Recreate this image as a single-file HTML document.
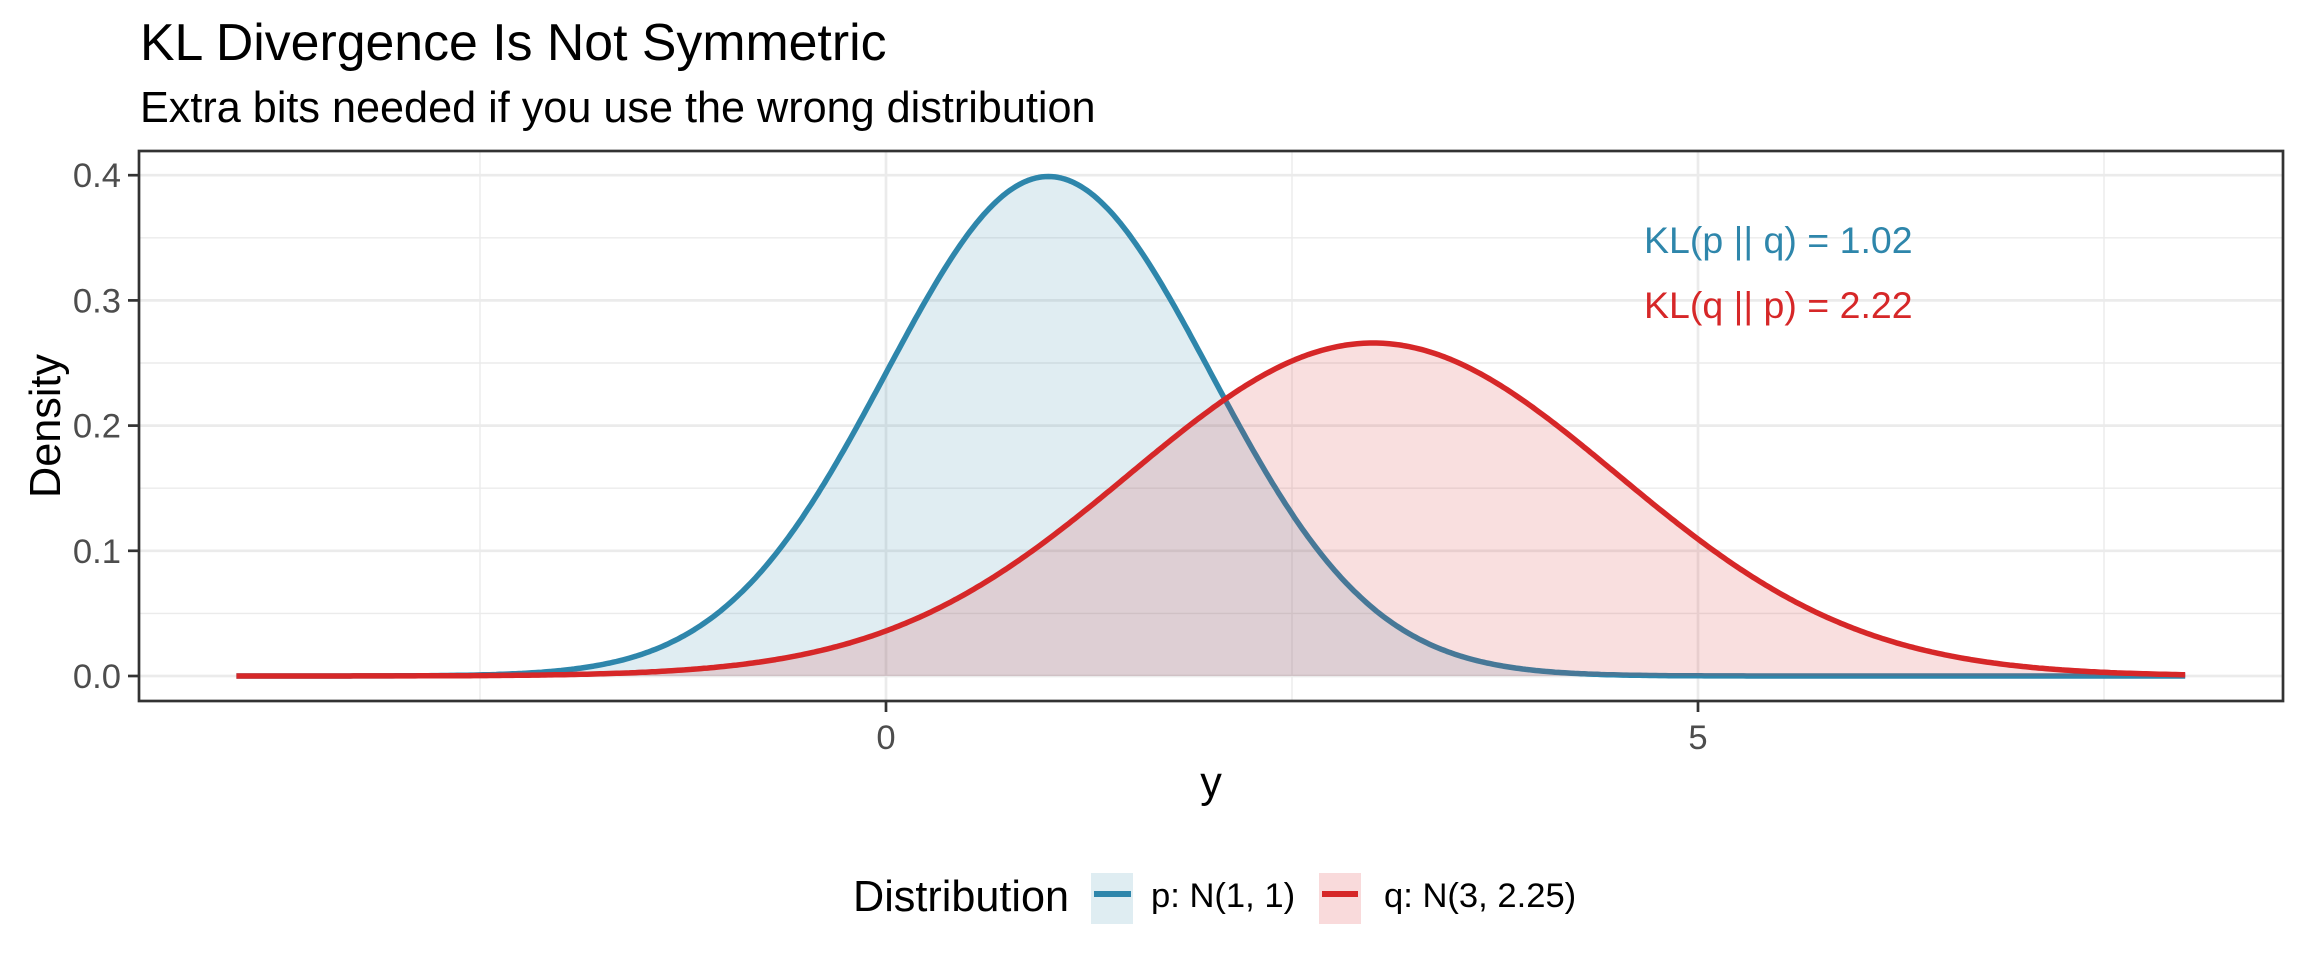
<!DOCTYPE html>
<html><head><meta charset="utf-8"><style>
html,body{margin:0;padding:0;background:#fff;}
svg{display:block;font-family:"Liberation Sans",Arial,sans-serif;}
</style></head><body>
<svg id="s" width="2304" height="960" viewBox="0 0 2304 960" xmlns="http://www.w3.org/2000/svg">
<rect width="2304" height="960" fill="#fff"/>
<text x="140" y="60" font-size="51.8" fill="#000">KL Divergence Is Not Symmetric</text>
<text x="140" y="122" font-size="43.2" fill="#000">Extra bits needed if you use the wrong distribution</text>
<g id="grid"></g>
<g id="curves"></g>
<text x="1644" y="253" font-size="37.5" fill="#2E86AB">KL(p || q) = 1.02</text>
<text x="1644" y="318" font-size="37.5" fill="#D62728">KL(q || p) = 2.22</text>
<rect x="139" y="151" width="2144" height="550" fill="none" stroke="#333" stroke-width="2.7"/>
<g id="ticks" stroke="#333" stroke-width="2.7"></g>
<g id="labels" font-size="34.6" fill="#4D4D4D"></g>
<text x="1211" y="797" font-size="43.2" text-anchor="middle" fill="#000">y</text>
<text transform="translate(60,426) rotate(-90)" font-size="43.2" text-anchor="middle" fill="#000">Density</text>
<text x="853" y="911" font-size="43.2" fill="#000">Distribution</text>
<rect x="1091" y="873" width="42" height="51" fill="#DFEDF2"/>
<line x1="1094" y1="894" x2="1131" y2="894" stroke="#2E86AB" stroke-width="6"/>
<text x="1151" y="907" font-size="34.6" fill="#000">p: N(1, 1)</text>
<rect x="1319" y="873" width="42" height="51" fill="#F9DADB"/>
<line x1="1322" y1="894" x2="1358" y2="894" stroke="#D62728" stroke-width="6"/>
<text x="1384" y="907" font-size="34.6" fill="#000">q: N(3, 2.25)</text>
</svg>
<script>
(function(){
var NS="http://www.w3.org/2000/svg";
function X(v){return 886+v*162.4;}
function Y(v){return 676-v*1252;}
function el(p,t,a,txt){var e=document.createElementNS(NS,t);for(var k in a)e.setAttribute(k,a[k]);if(txt!=null)e.textContent=txt;p.appendChild(e);return e;}
var g=document.getElementById('grid');
var L=139,R=2283,T=151,B=701;
[-2.5,2.5,7.5].forEach(function(v){el(g,'line',{x1:X(v),x2:X(v),y1:T,y2:B,stroke:'#EBEBEB','stroke-width':1.4});});
[0.05,0.15,0.25,0.35].forEach(function(v){el(g,'line',{x1:L,x2:R,y1:Y(v),y2:Y(v),stroke:'#EBEBEB','stroke-width':1.4});});
[0,5].forEach(function(v){el(g,'line',{x1:X(v),x2:X(v),y1:T,y2:B,stroke:'#EBEBEB','stroke-width':2.7});});
[0,0.1,0.2,0.3,0.4].forEach(function(v){el(g,'line',{x1:L,x2:R,y1:Y(v),y2:Y(v),stroke:'#EBEBEB','stroke-width':2.7});});
function dn(x,m,s){return Math.exp(-0.5*Math.pow((x-m)/s,2))/(s*Math.sqrt(2*Math.PI));}
var c=document.getElementById('curves');
[[1,1,'#2E86AB'],[3,1.5,'#D62728']].forEach(function(d){
 var pts=[];for(var i=0;i<=600;i++){var x=-4+12*i/600;pts.push(X(x).toFixed(1)+','+Y(dn(x,d[0],d[1])).toFixed(1));}
 el(c,'path',{d:'M'+X(-4)+','+Y(0)+' L'+pts.join(' L')+' L'+X(8)+','+Y(0)+'Z',fill:d[2],'fill-opacity':0.15,stroke:'none'});
 el(c,'path',{d:'M'+pts.join(' L'),fill:'none',stroke:d[2],'stroke-width':5.5,'stroke-linejoin':'round'});
});
var t=document.getElementById('ticks'),lb=document.getElementById('labels');
[0,0.1,0.2,0.3,0.4].forEach(function(v){el(t,'line',{x1:128,x2:139,y1:Y(v),y2:Y(v)});el(lb,'text',{x:121,y:Y(v)+12,'text-anchor':'end'},v.toFixed(1));});
[0,5].forEach(function(v){el(t,'line',{x1:X(v),x2:X(v),y1:701,y2:712});el(lb,'text',{x:X(v),y:749,'text-anchor':'middle'},String(v));});
})();
</script>
</body></html>
